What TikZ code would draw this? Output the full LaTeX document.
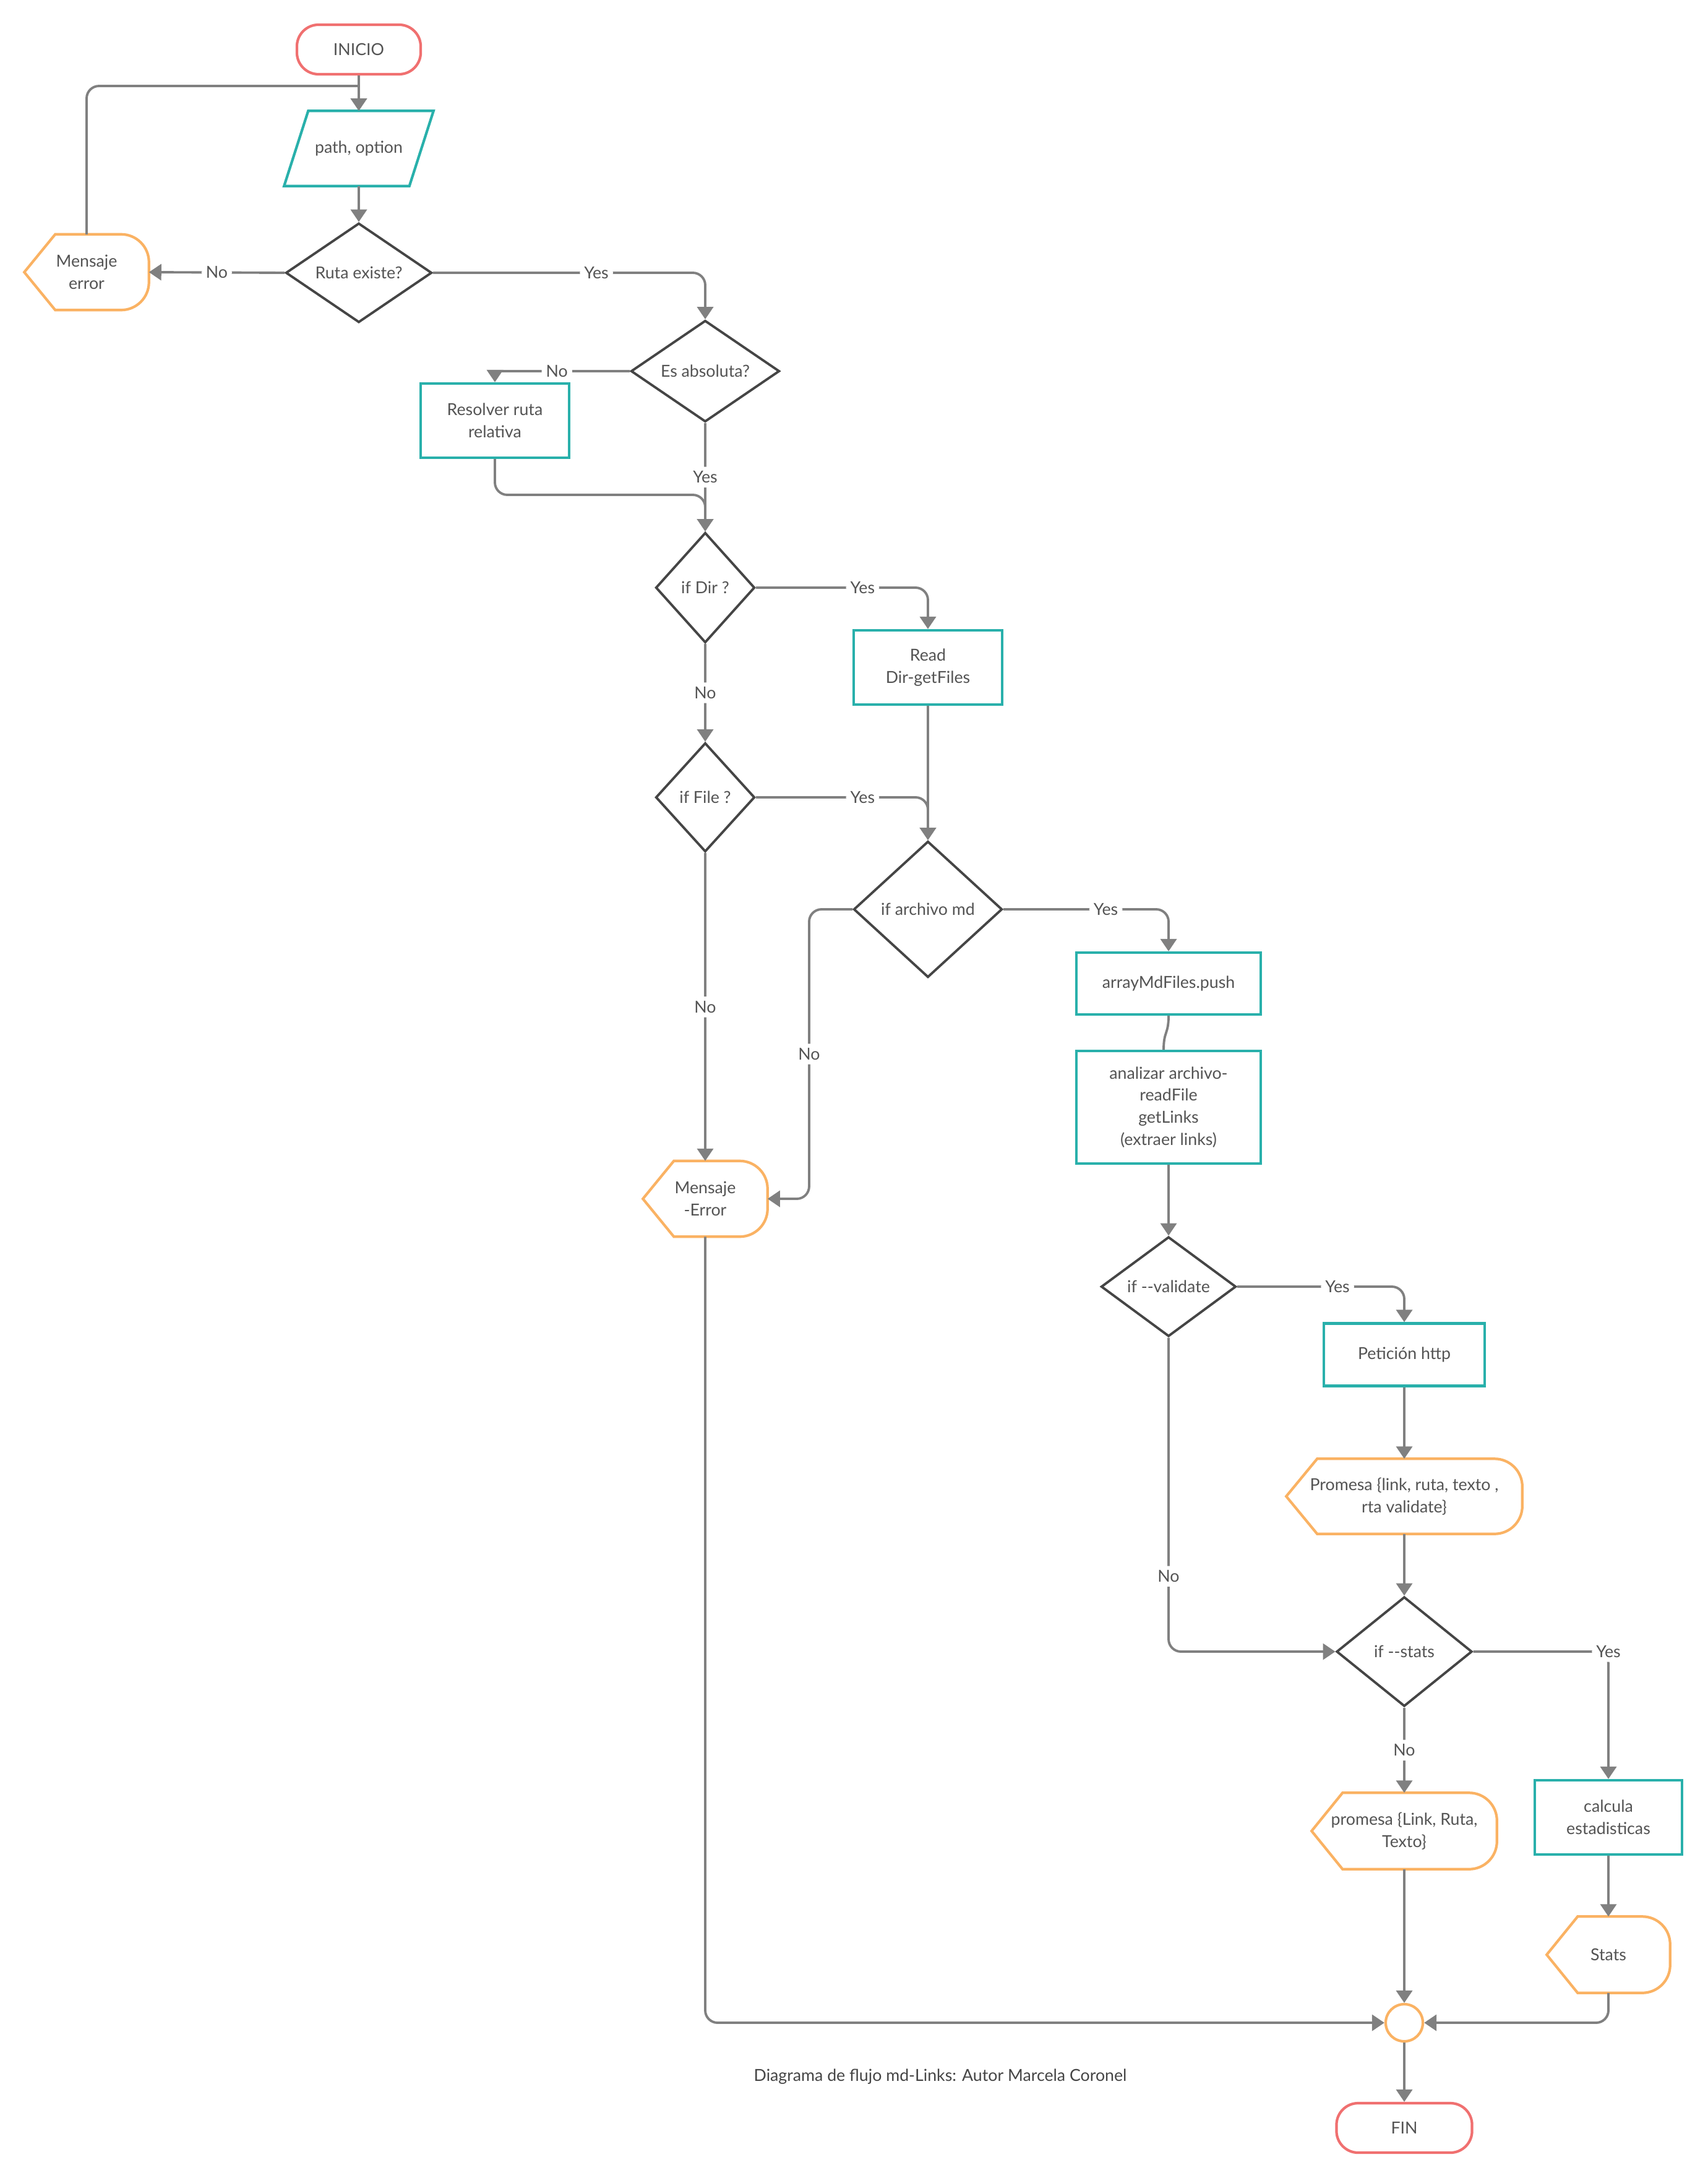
\documentclass[tikz,border=0pt]{standalone}
\usepackage{fontspec}
\setmainfont{Lato}
\usetikzlibrary{shapes.geometric,arrows.meta}

\newlength{\du}
\setlength{\du}{0.01cm}

\definecolor{textogris}{rgb}{0.330000, 0.330000, 0.330000}
\definecolor{lineagris}{rgb}{0.500000, 0.500000, 0.500000}
\definecolor{rombogris}{rgb}{0.270000, 0.270000, 0.270000}
\definecolor{verdeazul}{rgb}{0.160000, 0.690000, 0.670000}
\definecolor{naranja}{rgb}{0.980000, 0.700000, 0.390000}
\definecolor{rojo}{rgb}{0.940000, 0.440000, 0.440000}

\tikzset{
  base/.style={font=\fontsize{7.6}{10.2}\selectfont, text=textogris, align=center, inner sep=0pt},
  terminal/.style={base, draw=rojo, line width=1.2pt, rounded corners=3.5mm, minimum width=#1, minimum height=8mm},
  proceso/.style 2 args={base, draw=verdeazul, line width=1.2pt, minimum width=#1, minimum height=#2},
  decision/.style 2 args={base, diamond, draw=rombogris, line width=1.1pt, minimum width=#1, minimum height=#2},
  entrada/.style={base, minimum width=24mm, minimum height=12mm},
  mensaje/.style 2 args={base, minimum width=#1, minimum height=#2},
  contorno/.style={draw=naranja, line width=1.2pt},
  conector/.style={draw=lineagris, line width=1.1pt, rounded corners=2mm, -{Triangle[length=2mm,width=2.6mm]}},
  linea/.style={draw=lineagris, line width=1.1pt, rounded corners=2mm},
  etiqueta/.style={base, fill=white, inner sep=2pt},
}

\begin{document}
\begin{tikzpicture}
\pgftransformxscale{1.000000}
\pgftransformyscale{-1.000000}
\fill[white] (0\du,0\du) rectangle (2761\du,3521\du);
\useasboundingbox (0\du,0\du) rectangle (2761\du,3521\du);

% inicio y entrada
\node[terminal=20mm] (inicio) at (580\du,80\du) {INICIO};
\node[entrada] (entrada) at (580\du,240\du) {path, option};
\draw[draw=verdeazul, line width=1.2pt] ([xshift=3.9mm]entrada.north west) -- (entrada.north east) -- ([xshift=-3.9mm]entrada.south east) -- (entrada.south west) -- cycle;
\node[decision={23.6mm}{16mm}] (ruta) at (580\du,441\du) {Ruta existe?};
\node[mensaje={20mm}{12.1mm}] (err1) at (140\du,440\du) {Mensaje\\error};
\node[decision={24mm}{16mm}] (absoluta) at (1140\du,600\du) {Es absoluta?};
\node[proceso={24mm}{12mm}] (resolver) at (800\du,680\du) {Resolver ruta\\relativa};

% directorio o archivo
\node[decision={16mm}{17.8mm}] (esdir) at (1140\du,950\du) {if Dir ?};
\node[proceso={24mm}{12mm}] (readdir) at (1500\du,1079\du) {Read\\Dir-getFiles};
\node[decision={16mm}{17.6mm}] (esfile) at (1140\du,1289\du) {if File ?};
\node[decision={24mm}{22mm}] (esmd) at (1500\du,1470\du) {if archivo md};
\node[mensaje={20mm}{12.1mm}] (err2) at (1140\du,1938\du) {Mensaje\\-Error};
\node[proceso={29.8mm}{10mm}] (push) at (1889\du,1590\du) {arrayMdFiles.push};
\node[proceso={29.8mm}{18.2mm}] (analizar) at (1889\du,1790\du) {analizar archivo-\\readFile\\getLinks\\(extraer links)};

% opciones
\node[decision={21.8mm}{16.1mm}] (validate) at (1889\du,2080\du) {if -\kern0pt-validate};
\node[proceso={26mm}{10.1mm}] (peticion) at (2270\du,2190\du) {Petición http};
\node[mensaje={38mm}{12mm}] (promval) at (2270\du,2419\du) {Promesa \{link, ruta, texto ,\\rta validate\}};
\node[decision={21.9mm}{17.7mm}] (stats) at (2270\du,2670\du) {if -\kern0pt-stats};
\node[mensaje={29.8mm}{12.2mm}] (promesa) at (2270\du,2960\du) {promesa \{Link, Ruta,\\Texto\}};
\node[proceso={23.8mm}{12mm}] (calcula) at (2600\du,2938\du) {calcula\\estadisticas};
\node[mensaje={19.8mm}{12.2mm}] (statsout) at (2600\du,3160\du) {Stats};
\node[circle, draw=naranja, line width=1.2pt, minimum size=6mm, inner sep=0pt] (union) at (2270\du,3270\du) {};
\node[terminal=21.9mm] (fin) at (2270\du,3440\du) {FIN};
\node[base, text=rombogris] (pie) at (1520\du,3357\du) {Diagrama de flujo md-Links: Autor Marcela Coronel};

% contorno de los mensajes
\foreach \n in {err1,err2,promval,promesa,statsout}
  \draw[contorno] (\n.west) -- ([xshift=5mm]\n.north west) [rounded corners=4.5mm] -- (\n.north east) -- (\n.south east) [sharp corners] -- ([xshift=5mm]\n.south west) -- cycle;

\coordinate (bucle) at (580\du,139\du);
\coordinate (juntaA) at (1140\du,800\du);

% conectores
\draw[conector] (inicio) -- (entrada);
\draw[linea] (err1.north) |- (bucle);
\draw[conector] (entrada) -- (ruta);
\draw[conector] (ruta.west) -- node[etiqueta]{No} (err1.east);
\draw[conector] (ruta.east) -| node[etiqueta, pos=0.3]{Yes} (absoluta.north);
\draw[conector, rounded corners=0.6mm] (absoluta.west) -| node[etiqueta, pos=0.27]{No} (resolver.north);
\draw[conector] (absoluta.south) -- node[etiqueta]{Yes} (esdir.north);
\draw[conector] (resolver.south) |- (juntaA) -- (esdir.north);
\draw[conector] (esdir.east) -| node[etiqueta, pos=0.31]{Yes} (readdir.north);
\draw[conector] (esdir.south) -- node[etiqueta]{No} (esfile.north);
\draw[conector] (readdir.south) -- (esmd.north);
\draw[conector] (esfile.east) -| node[etiqueta, pos=0.31]{Yes} (esmd.north);
\draw[conector] (esfile.south) -- node[etiqueta]{No} (err2.north);
\draw[conector] (esmd.west) -- ++(-7mm,0) |- node[etiqueta, pos=0.25]{No} (err2.east);
\draw[conector] (err2.south) |- (union.west);
\draw[conector] (esmd.east) -| node[etiqueta, pos=0.31]{Yes} (push.north);
\draw[linea] (push.south) .. controls +(0,3mm) and +(0,-3mm) .. ([xshift=-0.8mm]analizar.north);
\draw[conector] (analizar) -- (validate);
\draw[conector] (validate.east) -| node[etiqueta, pos=0.3]{Yes} (peticion.north);
\draw[conector] (validate.south) |- node[etiqueta, pos=0.38]{No} (stats.west);
\draw[conector] (peticion) -- (promval);
\draw[conector] (promval) -- (stats);
\draw[conector] (stats.east) -| node[etiqueta]{Yes} (calcula.north);
\draw[conector] (stats.south) -- node[etiqueta]{No} (promesa.north);
\draw[conector] (promesa) -- (union);
\draw[conector] (calcula) -- (statsout);
\draw[conector] (statsout.south) |- (union.east);
\draw[conector] (union) -- (fin);
\end{tikzpicture}
\end{document}
